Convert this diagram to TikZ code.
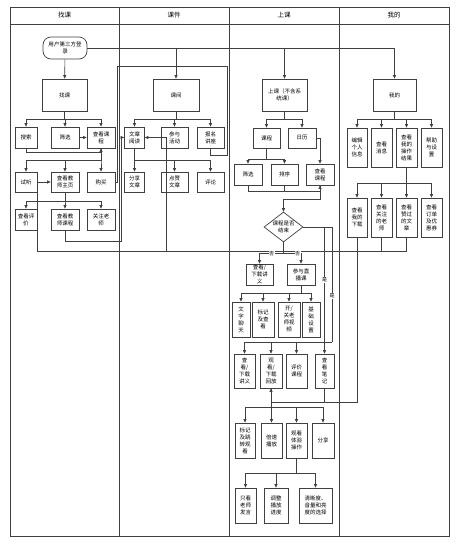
\documentclass[tikz,border=0pt]{standalone}
\usepackage{fontspec}
\setmainfont{Noto Sans CJK SC}
\usetikzlibrary{arrows.meta,shapes.geometric}

\begin{document}
\begin{tikzpicture}[x=1pt, y=-1pt,
    box/.style={draw=black!75, line width=0.7pt, fill=white, inner sep=0pt, align=center, font=\fontsize{5.5}{7}\selectfont},
    bx/.style 2 args={box, minimum width=#1pt, minimum height=#2pt},
    line/.style={draw=black!75, line width=0.6pt},
    arr/.style={line, -{Triangle[length=3.5pt,width=3pt]}},
    lab/.style={fill=white, inner sep=0.5pt, font=\fontsize{5}{6}\selectfont}]
    \useasboundingbox (0,0) rectangle (460,544);
    \draw[line] (10,7) rectangle (449,536);
    \draw[line] (10,24) -- (449,24);
    \foreach \x in {119,229,339} \draw[line] (\x,7) -- (\x,536);
    \foreach \x/\t/\n in {64.5/找课/hzk,174/课件/hkj,284/上课/hsk,394/我的/hwd}
        \node[font=\fontsize{6.5}{8}\selectfont] (\n) at (\x,15.5) {\t};

    \node[box, rounded corners=8pt, minimum width=44pt, minimum height=22pt] (login) at (65,48) {用户第三方登\\录};
    \node[bx={45}{32}] (zk) at (64.5,95) {找课};
    \node[bx={22}{21}] (ss) at (26,137.5) {搜索};
    \node[bx={28}{21}] (sx) at (65,137.5) {筛选};
    \node[bx={28}{21}] (ckkc) at (101,137.5) {查看课\\程};
    \node[bx={22}{20}] (st) at (26,182) {试听};
    \node[bx={28}{20}] (jszy) at (65,182) {查看教\\师主页};
    \node[bx={28}{20}] (gm) at (101,182) {购买};
    \node[bx={22}{21}] (ckpj) at (26,219.5) {查看评\\价};
    \node[bx={28}{21}] (jskc) at (65,219.5) {查看教\\师课程};
    \node[bx={28}{21}] (gzls) at (101,219.5) {关注老\\师};

    \node[bx={46}{32}] (kj) at (176,95) {课间};
    \node[bx={20}{21}] (wzyd) at (134.5,137.5) {文章\\阅读};
    \node[bx={27}{21}] (cyhd) at (174.5,137.5) {参与\\活动};
    \node[bx={27}{21}] (bmjz) at (210.5,137.5) {报名\\讲座};
    \node[bx={20}{20}] (fxwz) at (134.5,182) {分享\\文章};
    \node[bx={27}{20}] (dzwz) at (174.5,182) {点赞\\文章};
    \node[bx={27}{20}] (pl) at (210.5,182) {评论};

    \node[bx={45}{32}] (sk) at (284.5,95) {上课（不含系\\统课）};
    \node[bx={27}{20}] (kc) at (266.5,138) {课程};
    \node[bx={28}{20}] (rl) at (302,138) {日历};
    \node[bx={28}{21}] (sx2) at (248,174.5) {筛选};
    \node[bx={27}{21}] (px) at (284.5,174.5) {排序};
    \node[bx={28}{21}] (ckkc2) at (320,174.5) {查看\\课程};
    \node[box, diamond, aspect=1.3, minimum width=39pt, minimum height=30pt] (dia) at (283.5,227) {课程是否\\结束};
    \node[bx={27}{21}] (xzjy) at (259.5,274.5) {查看/\\下载讲\\义};
    \node[bx={28}{21}] (zbk) at (301,274.5) {参与直\\播课};
    \node[bx={18}{35}] (wzlt) at (241,319.5) {文\\字\\聊\\天};
    \node[bx={22}{35}] (bjck) at (263,319.5) {标记\\及查\\看};
    \node[bx={22}{35}] (kgsp) at (289,319.5) {开/\\关老\\师视\\频};
    \node[bx={18}{35}] (jcsz) at (311,319.5) {基\\础\\设\\置};
    \node[bx={21}{34}] (xzjy2) at (244.5,371) {查\\看/\\下载\\讲义};
    \node[bx={22}{34}] (gkhf) at (271,371) {观\\看/\\下载\\回放};
    \node[bx={21}{34}] (pjkc) at (296.5,371) {评价\\课程};
    \node[bx={19}{34}] (ckbj) at (324.5,371) {查\\看\\笔\\记};
    \node[bx={20}{35}] (bjtz) at (245,440.5) {标记\\及跳\\转观\\看};
    \node[bx={21}{35}] (bsbf) at (271.5,440.5) {倍速\\播放};
    \node[bx={21}{35}] (tycz) at (296.5,440.5) {观看\\体验\\操作};
    \node[bx={22}{35}] (fx) at (323,440.5) {分享};
    \node[bx={21}{35}] (zkls) at (245.5,505.5) {只看\\老师\\发言};
    \node[bx={24}{35}] (tzjd) at (276,505.5) {调整\\播放\\进度};
    \node[bx={33}{35}] (qxd) at (315.5,505.5) {清晰度、\\音量和亮\\度的选择};

    \node[bx={43}{32}] (wd) at (394.5,95) {我的};
    \node[bx={20}{39}] (bjxx) at (357,147.5) {编辑\\个人\\信息};
    \node[bx={21}{39}] (ckxx) at (381.5,147.5) {查看\\消息};
    \node[bx={21}{39}] (czjg) at (406.5,147.5) {查看\\我的\\操作\\结果};
    \node[bx={21}{39}] (bzsz) at (431.5,147.5) {帮助\\与设\\置};
    \node[bx={20}{39}] (wdxz) at (357,217.5) {查看\\我的\\下载};
    \node[bx={21}{39}] (gzls2) at (381.5,217.5) {查看\\关注\\的老\\师};
    \node[bx={21}{39}] (zgwz) at (406.5,217.5) {查看\\赞过\\的文\\章};
    \node[bx={21}{39}] (ddyh) at (431.5,217.5) {查看\\订单\\及优\\惠券};

    \coordinate (r1) at (227,66);
    \coordinate (r2) at (117,66);
    \coordinate (yes) at (332,342);
    \coordinate (back) at (271,402);

    \draw[arr] (login) -- (zk);
    \foreach \n in {kj,sk,wd} \draw[arr] (login.east) -| (\n);
    \foreach \n in {ss,sx,ckkc} \draw[arr] (zk.south) -- ++(0,8) -| (\n);
    \draw[arr] (ss.south) -- ++(0,4) -| (ckkc.south);
    \draw[arr] (sx) -- (ckkc);
    \foreach \n in {st,jszy,gm} \draw[arr] (ckkc.south) -- ++(0,12) -| (\n);
    \foreach \n in {ckpj,jskc,gzls} \draw[arr] (jszy.south) -- ++(0,9) -| (\n);
    \draw[arr] (gzls2.south) -- ++(0,14) -| ([xshift=-13pt]jszy.west) -- (jszy.west);
    \draw[arr] (zgwz.south) -- ++(0,14) -| ([xshift=6pt]cyhd.west) -- (wzyd.east);
    \draw[line] (bmjz.south) -- ++(0,7) -| (r1) -- (r2) |- (gm.east);
    \draw[arr] (jskc.south) -- ++(0,11) -| ([xshift=-3pt]wzyd.west) -- (wzyd.west);

    \foreach \n in {wzyd,cyhd,bmjz} \draw[arr] (kj.south) -- ++(0,8) -| (\n);
    \foreach \n in {fxwz,dzwz,pl} \draw[arr] (wzyd.south) -- ++(0,12) -| (\n);

    \foreach \n in {kc,rl} \draw[arr] (sk.south) -- ++(0,8) -| (\n);
    \draw[arr] (rl.east) -| (ckkc2.north);
    \foreach \n in {sx2,px} \draw[arr] (kc.south) -- ++(0,11) -| (\n);
    \draw[arr] (sx2.south) -- ++(0,6) -| (ckkc2.south);
    \draw[line] (px.south) -- ++(0,6);
    \draw[arr] (ckkc2.south) -- ++(0,14) -| (dia.north);
    \draw[arr] (dia.south) -- ++(0,11) -| node[lab, pos=0.25] {否} (xzjy);
    \draw[arr] (dia.south) -- ++(0,11) -| node[lab, pos=0.4] {否} (zbk);
    \draw[arr] (dia.east) -| node[lab, pos=0.71] {是} (ckbj.north);
    \draw[line] (dia.east) -| node[lab, pos=0.8] {是} (yes);
    \foreach \n in {xzjy2,gkhf,pjkc} \draw[arr] (yes) -| (\n);
    \foreach \n in {wzlt,bjck,kgsp,jcsz} \draw[arr] (zbk.south) -- ++(0,8) -| (\n);
    \draw[arr] (wdxz.south) |- (back) -- (gkhf.south);
    \draw[line] (ckbj.south) -- (ckbj.south |- back);
    \foreach \n in {bjtz,bsbf,tycz,fx} \draw[arr] (gkhf.south) -- ++(0,19) -| (\n);
    \foreach \n in {zkls,tzjd,qxd} \draw[arr] (tycz.south) -- ++(0,15) -| (\n);

    \foreach \n in {bjxx,ckxx,czjg,bzsz} \draw[arr] (wd.south) -- ++(0,8) -| (\n);
    \foreach \n in {wdxz,gzls2,zgwz,ddyh} \draw[arr] (czjg.south) -- ++(0,16) -| (\n);
\end{tikzpicture}
\end{document}
